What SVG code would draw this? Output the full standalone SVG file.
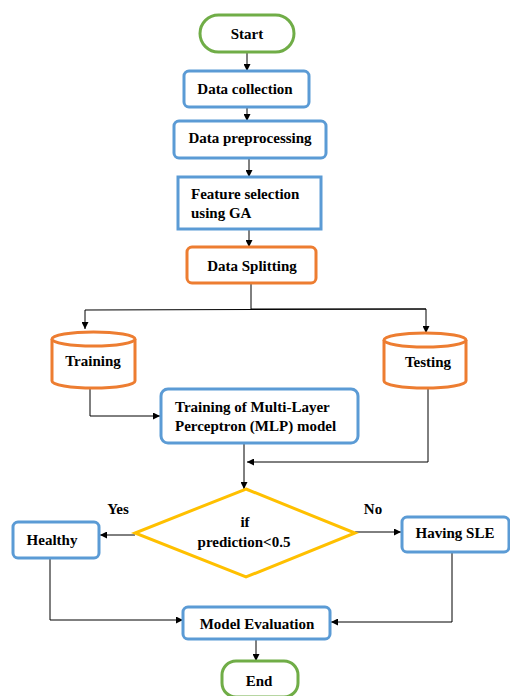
<svg xmlns="http://www.w3.org/2000/svg" width="510" height="696" viewBox="0 0 510 696">
<defs>
<marker id="ah" viewBox="0 0 10 10" refX="10" refY="5" markerWidth="7" markerHeight="7" markerUnits="userSpaceOnUse" orient="auto">
<path d="M0,0 L10,5 L0,10 z" fill="#000"/>
</marker>
<style>
text{font-family:'Liberation Serif','Times New Roman',Times,serif;font-weight:bold;font-size:15px;fill:#000}
.c{text-anchor:middle}
.blue{fill:#fff;stroke:#5B9BD5;stroke-width:3}
.green{fill:#fff;stroke:#70AD47;stroke-width:3}
.orange{fill:#fff;stroke:#ED7D31;stroke-width:3}
.yellow{fill:#fff;stroke:#FFC000;stroke-width:3}
.ln{fill:none;stroke:#000;stroke-width:1}
.ar{fill:none;stroke:#000;stroke-width:1;marker-end:url(#ah)}
</style>
</defs>
<rect width="510" height="696" fill="#fff"/>
<g id="connectors">
<line class="ar" x1="247" y1="52" x2="247" y2="71"/>
<line class="ar" x1="247" y1="107" x2="247" y2="121"/>
<line class="ar" x1="249" y1="158" x2="249" y2="177"/>
<line class="ar" x1="249" y1="229" x2="249" y2="247"/>
<polyline class="ln" points="251,283 251,309"/>
<polyline class="ar" points="426,309 85,310 85,329"/>
<polyline class="ar" points="251,309 426,309 426,333"/>
<polyline class="ar" points="90,388 90,416 160,416"/>
<polyline class="ar" points="428,388 428,462 247,462"/>
<line class="ar" x1="244" y1="443" x2="244" y2="489"/>
<line class="ar" x1="135" y1="535" x2="100" y2="535"/>
<line class="ar" x1="355" y1="532" x2="401" y2="532"/>
<polyline class="ar" points="50,558 50,620 183,620"/>
<polyline class="ar" points="452,552 452,622 331,622"/>
<line class="ar" x1="256" y1="639" x2="256" y2="661"/>
<text class="c" x="118" y="514">Yes</text>
<text class="c" x="373" y="514">No</text>
</g>
<g id="start">
<rect class="green" x="200" y="15" width="94" height="37" rx="18.5"/>
<text class="c" x="247" y="39">Start</text>
</g>
<g id="data-collection">
<rect class="blue" x="184" y="71" width="125" height="36" rx="5"/>
<text class="c" x="245" y="94">Data collection</text>
</g>
<g id="data-preprocessing">
<rect class="blue" x="174" y="121" width="152" height="37" rx="5"/>
<text class="c" x="250" y="143">Data preprocessing</text>
</g>
<g id="feature-selection">
<rect class="blue" x="178" y="177" width="143" height="52"/>
<text x="191" y="199">Feature selection</text>
<text x="191" y="218">using GA</text>
</g>
<g id="data-splitting">
<rect class="orange" x="187" y="247" width="129" height="36" rx="5"/>
<text class="c" x="252" y="271">Data Splitting</text>
</g>
<g id="training">
<path class="orange" d="M52,339 A41.5,7 0 0 1 135,339 L135,381 A41.5,7 0 0 1 52,381 Z"/>
<path class="orange" fill="none" d="M52,339 A41.5,7 0 0 0 135,339"/>
<text class="c" x="93" y="366">Training</text>
</g>
<g id="testing">
<path class="orange" d="M384,340 A41,7 0 0 1 466,340 L466,381 A41,7 0 0 1 384,381 Z"/>
<path class="orange" fill="none" d="M384,340 A41,7 0 0 0 466,340"/>
<text class="c" x="428" y="367">Testing</text>
</g>
<g id="mlp">
<rect class="blue" x="161" y="389" width="197" height="54" rx="7"/>
<text x="175" y="412">Training of Multi-Layer</text>
<text x="175" y="431">Perceptron (MLP) model</text>
</g>
<g id="decision">
<polygon class="yellow" points="246,489 355,533 246,577 135,533"/>
<text class="c" x="245" y="527">if</text>
<text class="c" x="244" y="547">prediction&lt;0.5</text>
</g>
<g id="healthy">
<rect class="blue" x="13" y="522" width="86" height="36" rx="5"/>
<text class="c" x="52" y="545">Healthy</text>
</g>
<g id="having-sle">
<rect class="blue" x="402" y="517" width="107" height="35" rx="5"/>
<text class="c" x="455" y="538">Having SLE</text>
</g>
<g id="model-evaluation">
<rect class="blue" x="183" y="607" width="147" height="32" rx="5"/>
<text class="c" x="257" y="629">Model Evaluation</text>
</g>
<g id="end">
<rect class="green" x="222" y="661" width="76" height="36" rx="14"/>
<text class="c" x="259" y="686">End</text>
</g>
</svg>
